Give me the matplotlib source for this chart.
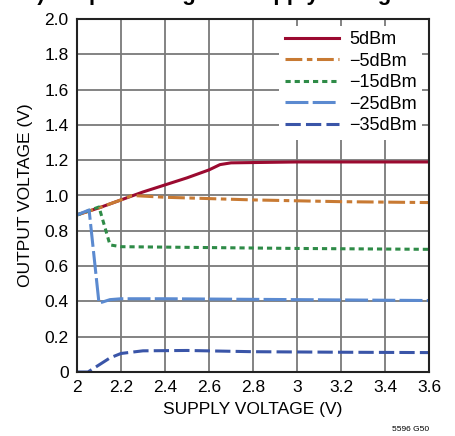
import matplotlib
matplotlib.use('Agg')
import matplotlib.pyplot as plt

plt.rcParams['font.family'] = ['Liberation Sans', 'DejaVu Sans']

x_5 = [2.0, 2.1, 2.2, 2.3, 2.4, 2.5, 2.6, 2.65, 2.7, 3.0, 3.6]
y_5 = [0.89, 0.93, 0.975, 1.02, 1.06, 1.10, 1.145, 1.175, 1.185, 1.19, 1.19]
x_m5 = [2.0, 2.1, 2.2, 2.25, 2.4, 2.8, 3.2, 3.6]
y_m5 = [0.89, 0.93, 0.975, 1.0, 0.99, 0.975, 0.965, 0.96]
x_m15 = [2.0, 2.1, 2.15, 2.2, 2.6, 3.0, 3.6]
y_m15 = [0.89, 0.935, 0.72, 0.71, 0.705, 0.70, 0.695]
x_m25 = [2.0, 2.055, 2.1, 2.15, 2.2, 2.4, 3.0, 3.6]
y_m25 = [0.89, 0.918, 0.39, 0.41, 0.415, 0.415, 0.41, 0.405]
x_m35 = [2.0, 2.05, 2.1, 2.15, 2.2, 2.3, 2.5, 2.8, 3.2, 3.6]
y_m35 = [0.0, 0.0, 0.04, 0.08, 0.105, 0.12, 0.122, 0.115, 0.112, 0.11]

labels = ['5dBm', '\u22125dBm', '\u221215dBm', '\u221225dBm', '\u221235dBm']
colors = ['#9b0a30', '#c87a33', '#2e8b47', '#5b8ad0', '#3a55a8']

fig = plt.figure(figsize=(4.56, 4.36), dpi=100)
ax = fig.add_axes([77/456, 64/436, 352/456, 353/436])

ax.plot(x_5, y_5, color=colors[0], lw=2.2, label=labels[0])
ax.plot(x_m5, y_m5, color=colors[1], lw=2.2, dashes=(5.5, 1.5, 1.8, 1.5), label=labels[1])
ax.plot(x_m15, y_m15, color=colors[2], lw=2.2, dashes=(1.7, 1.3), label=labels[2])
ax.plot(x_m25, y_m25, color=colors[3], lw=2.2, dashes=(7.5, 1.4), label=labels[3])
ax.plot(x_m35, y_m35, color=colors[4], lw=2.2, dashes=(5, 1.7), label=labels[4])

ax.set_xlim(2, 3.6)
ax.set_ylim(0, 2.0)
xt = [2, 2.2, 2.4, 2.6, 2.8, 3, 3.2, 3.4, 3.6]
ax.set_xticks(xt)
ax.set_xticklabels(['2', '2.2', '2.4', '2.6', '2.8', '3', '3.2', '3.4', '3.6'])
yt = [i * 0.2 for i in range(11)]
ax.set_yticks(yt)
ax.set_yticklabels(['0'] + [f'{v:.1f}' for v in yt[1:]])
ax.tick_params(length=0, labelsize=12.5, pad=6)
ax.grid(True, color='#7a7a7a', lw=1.3)
ax.set_axisbelow(True)
for s in ax.spines.values():
    s.set_linewidth(1.5)
    s.set_color('#222222')

ax.set_xlabel('SUPPLY VOLTAGE (V)', fontsize=12.5, labelpad=5)
ax.set_ylabel('OUTPUT VOLTAGE (V)', fontsize=12.5, labelpad=8)

leg = ax.legend(loc='upper right', bbox_to_anchor=(0.98, 0.981), borderaxespad=0,
                frameon=True, fontsize=13, handlelength=3.0, handletextpad=0.55,
                labelspacing=0.25, borderpad=0.3)
leg.get_frame().set_facecolor('white')
leg.get_frame().set_edgecolor('none')
leg.get_frame().set_alpha(1)

fig.text(0.47, 1.013, '5) Output Voltage vs Supply Voltage', fontsize=16,
         fontweight='bold', ha='center', va='center')
fig.text(0.9, 0.008, '5596 G50', fontsize=6, ha='center', va='bottom')

fig.savefig('out.png', dpi=100)
